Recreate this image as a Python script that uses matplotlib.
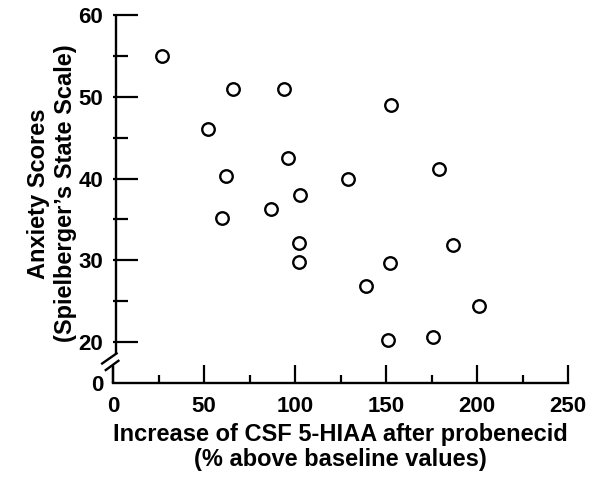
import numpy as np
import matplotlib.pyplot as plt
from matplotlib.ticker import MultipleLocator, FixedLocator

plt.rcParams['font.family'] = ['Liberation Sans', 'DejaVu Sans']

# datos: aumento de 5-HIAA (%) vs puntaje de ansiedad
aumento_5hiaa = [27, 66, 94, 52, 62, 96, 103, 87, 60, 102, 102,
                 129, 153, 179, 187, 139, 152, 151, 176, 201]
ansiedad = [55.0, 51.0, 51.0, 46.1, 40.3, 42.5, 38.0, 36.3, 35.2, 32.1, 29.8,
            39.9, 49.0, 41.2, 31.9, 26.9, 29.7, 20.3, 20.6, 24.4]

y_ticks = [15, 20, 30, 40, 50, 60]
y_tick_labels = ['0', '20', '30', '40', '50', '60']
x_ticks = [0, 50, 100, 150, 200, 250]

fig = plt.figure(figsize=(5.92, 4.79), dpi=100)
ax = fig.add_axes([113 / 592, 96 / 479, 455 / 592, 368 / 479])

ax.plot(aumento_5hiaa, ansiedad, 'o', markerfacecolor='white',
        markeredgecolor='black', markersize=9, markeredgewidth=1.7,
        linestyle='none', clip_on=False, zorder=3)

ax.set_xlim(0, 250)
ax.set_ylim(15, 60)

for lado in ['top', 'right', 'left']:
    ax.spines[lado].set_visible(False)
ax.spines['bottom'].set_linewidth(1.7)

# eje y cortado (dibujado a mano)
kw = dict(color='black', lw=1.7, clip_on=False, solid_capstyle='butt')
ax.plot([0, 0], [15, 17.1], **kw)
ax.plot([1.5, 1.5], [18.6, 60], **kw)
ax.plot([-6.5, 2.5], [17.3, 18.7], **kw)
ax.plot([-4.5, 3.5], [16.5, 17.8], **kw)

ax.set_yticks(y_ticks, y_tick_labels)
ax.yaxis.set_minor_locator(FixedLocator([25, 35, 45, 55]))
ax.set_xticks(x_ticks)
ax.xaxis.set_minor_locator(MultipleLocator(25))

ax.tick_params(axis='y', which='major', direction='in', length=18, width=1.6,
               labelsize=16, pad=7)
ax.tick_params(axis='y', which='minor', direction='in', length=10.5, width=1.6)
ax.tick_params(axis='x', which='major', direction='in', length=13, width=1.6,
               labelsize=16, pad=9)
ax.tick_params(axis='x', which='minor', direction='in', length=5.5, width=1.6)
ax.yaxis.get_major_ticks()[0].tick1line.set_visible(False)

for lbl in ax.get_xticklabels() + ax.get_yticklabels():
    lbl.set_fontweight('bold')

ax.set_xlabel('Increase of CSF 5-HIAA after probenecid\n(% above baseline values)',
              fontsize=17, fontweight='bold', linespacing=1.1)
ax.set_ylabel('Anxiety Scores\n(Spielberger’s State Scale)',
              fontsize=17, fontweight='bold', linespacing=1.2)
ax.xaxis.set_label_coords(0.5, -0.108)
ax.yaxis.set_label_coords(-0.079, 0.515)

fig.savefig('out.png', dpi=100)
